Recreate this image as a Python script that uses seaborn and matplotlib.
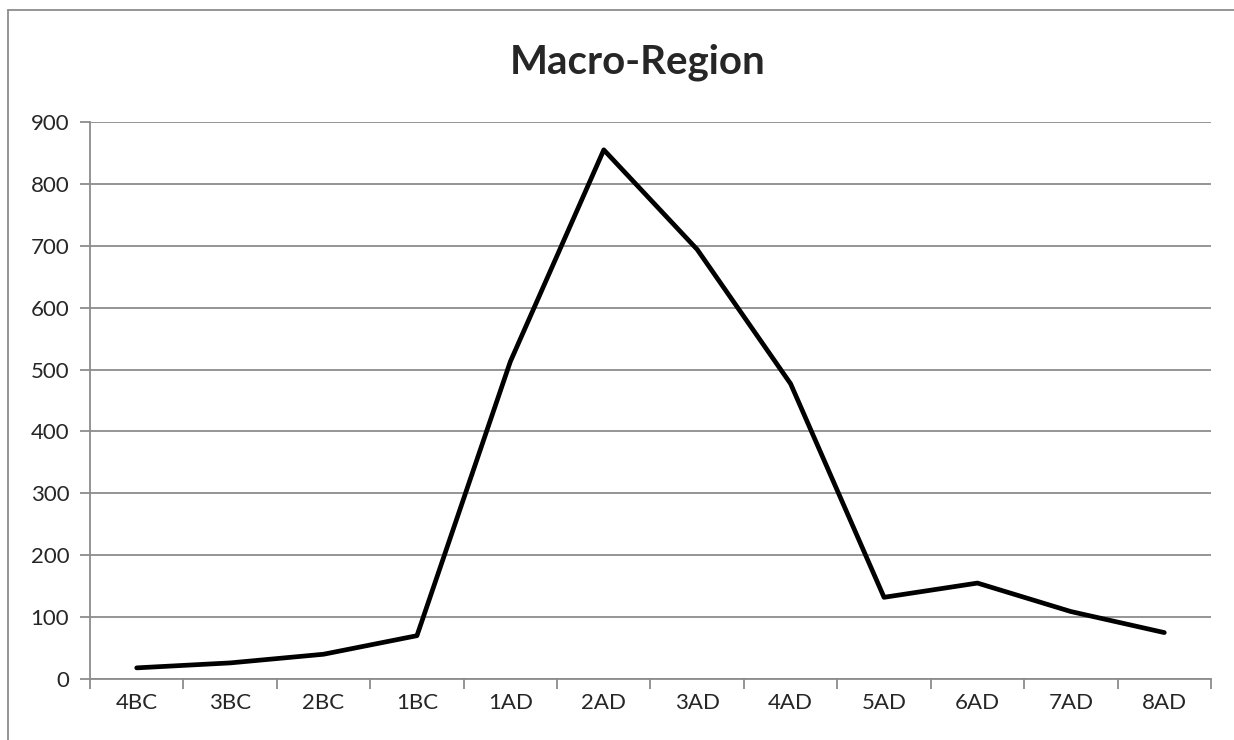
import matplotlib
matplotlib.use("Agg")
import matplotlib.pyplot as plt
import seaborn as sns
import numpy as np
from matplotlib.lines import Line2D

periods = ["4BC", "3BC", "2BC", "1BC", "1AD", "2AD", "3AD", "4AD", "5AD", "6AD", "7AD", "8AD"]
counts = [18, 26, 40, 70, 513, 855, 694, 477, 132, 155, 109, 75]
y_ticks = list(range(0, 1000, 100))

sns.set_style("white")
plt.rcParams["font.family"] = ["Lato", "DejaVu Sans"]

GRID = "#8c8c8c"

fig = plt.figure(figsize=(12.34, 7.40), dpi=100)
ax = fig.add_axes([90 / 1234, 1 - 679 / 740, 1121 / 1234, 557 / 740])

x = np.arange(len(periods))
sns.lineplot(x=x, y=counts, ax=ax, color="black", linewidth=3.4)

ax.set_xlim(-0.5, len(periods) - 0.5)
ax.set_ylim(0, 900)
ax.set_yticks(y_ticks)
ax.yaxis.grid(True, color=GRID, linewidth=1.3)
ax.set_axisbelow(True)

# category ticks sit between labels
ax.set_xticks(np.arange(-0.5, len(periods), 1.0))
ax.set_xticklabels([])
ax.set_xticks(x, minor=True)
ax.set_xticklabels(periods, minor=True, fontsize=16)
ax.tick_params(axis="x", which="major", length=7, width=1.3, color=GRID, direction="out")
ax.tick_params(axis="x", which="minor", length=0, pad=10)
ax.tick_params(axis="y", length=7, width=1.3, color=GRID, direction="out", labelsize=16, pad=8)
ax.tick_params(bottom=True, left=True)

for side in ["top", "right"]:
    ax.spines[side].set_visible(False)
for side in ["left", "bottom"]:
    ax.spines[side].set_color(GRID)
    ax.spines[side].set_linewidth(1.3)

fig.text(638 / 1234, 1 - 62 / 740, "Macro-Region", ha="center", va="center",
         fontsize=29, fontweight="bold")

# outer chart frame (right and bottom edges fall outside the image)
fig.add_artist(Line2D([8 / 1234, 8 / 1234], [0, 1 - 10 / 740], color=GRID, linewidth=1.3,
                      transform=fig.transFigure))
fig.add_artist(Line2D([8 / 1234, 1], [1 - 10 / 740, 1 - 10 / 740], color=GRID, linewidth=1.3,
                      transform=fig.transFigure))

fig.savefig("out.png", dpi=100)
